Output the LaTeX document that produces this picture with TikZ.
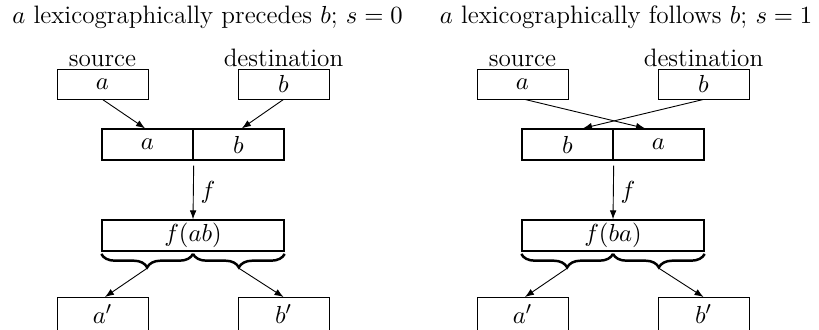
\documentclass[tikz,border=0pt]{standalone}
\usetikzlibrary{decorations.pathreplacing,arrows.meta}
\begin{document}
\begin{tikzpicture}[x=0.4444pt,y=-0.4444pt,
  font=\fontsize{11.2}{13.4}\selectfont,
  box/.style={draw, line width=0.4pt, minimum width=40.44pt, minimum height=13.33pt, inner sep=0pt},
  half/.style={draw, line width=0.6pt, minimum width=40.44pt, minimum height=13.78pt, inner sep=0pt},
  whole/.style={draw, line width=0.6pt, minimum width=80.88pt, minimum height=13.78pt, inner sep=0pt},
  lbl/.style={anchor=base, inner sep=0pt},
  arr/.style={-{Latex[length=4pt,width=3pt]}, line width=0.4pt},
  brc/.style={decorate, decoration={brace, mirror, amplitude=6pt}, line width=1.1pt}]
\clip (0,0) rectangle (819,329);

% ---------- left panel ----------
\node[lbl] (tl) at (207.5,23) {$a$ lexicographically precedes $b$; $s=0$};
\node[box] (sa1) at (102.5,84) {$a$};
\node[box] (db1) at (283.5,84) {$b$};
\node[lbl] (src1) at ([yshift=1pt]sa1.north) {source};
\node[lbl] (dst1) at ([yshift=1pt]db1.north) {destination};
\node[half] (ma1) at (147.5,144.5) {$a$};
\node[half] (mb1) at (238.5,144.5) {$b$};
\draw[arr] (sa1.south) -- ([xshift=-1.1pt]ma1.north);
\draw[arr] (db1.south) -- ([xshift=1.5pt]mb1.north);
\node[whole] (fab1) at (193,235.5) {$f(ab)$};
\draw[arr] ([yshift=-2.2pt]ma1.south east) -- (fab1.north) node[midway, right=3pt, inner sep=0pt] (f1) {$f$};
\draw[brc] ([yshift=-1pt]fab1.south west) -- ([yshift=-1pt]fab1.south);
\draw[brc] ([yshift=-1pt]fab1.south) -- ([yshift=-1pt]fab1.south east);
\coordinate (t1a) at (147.5,268);
\coordinate (t1b) at (238.5,268);
\node[box, anchor=north, minimum height=16pt] (ap1) at (102.5,297) {\raisebox{1.2pt}{$a'$}};
\node[box, anchor=north, minimum height=16pt] (bp1) at (283.5,297) {\raisebox{1.2pt}{$b'$}};
\draw[arr] (t1a) -- ([xshift=1.1pt]ap1.north);
\draw[arr] (t1b) -- (bp1.north);

% ---------- right panel ----------
\node[lbl] (tr) at (626,23) {$a$ lexicographically follows $b$; $s=1$};
\node[box] (sa2) at (522.5,84) {$a$};
\node[box] (db2) at (703.5,84) {$b$};
\node[lbl] (src2) at ([yshift=1pt]sa2.north) {source};
\node[lbl] (dst2) at ([yshift=1pt]db2.north) {destination};
\node[half] (mb2) at (567.5,144.5) {$b$};
\node[half] (ma2) at (658.5,144.5) {$a$};
\draw[arr] ([xshift=1.1pt]sa2.south) -- ([xshift=-6pt]ma2.north);
\draw[arr] (db2.south) -- ([xshift=6.9pt]mb2.north);
\node[whole] (fab2) at (613,235.5) {$f(ba)$};
\draw[arr] ([yshift=-2.2pt]mb2.south east) -- (fab2.north) node[midway, right=3pt, inner sep=0pt] (f2) {$f$};
\draw[brc] ([yshift=-1pt]fab2.south west) -- ([yshift=-1pt]fab2.south);
\draw[brc] ([yshift=-1pt]fab2.south) -- ([yshift=-1pt]fab2.south east);
\coordinate (t2a) at (567.5,268);
\coordinate (t2b) at (658.5,268);
\node[box, anchor=north, minimum height=16pt] (ap2) at (522.5,297) {\raisebox{1.2pt}{$a'$}};
\node[box, anchor=north, minimum height=16pt] (bp2) at (703.5,297) {\raisebox{1.2pt}{$b'$}};
\draw[arr] (t2a) -- ([xshift=1.1pt]ap2.north);
\draw[arr] (t2b) -- (bp2.north);
\end{tikzpicture}
\end{document}
